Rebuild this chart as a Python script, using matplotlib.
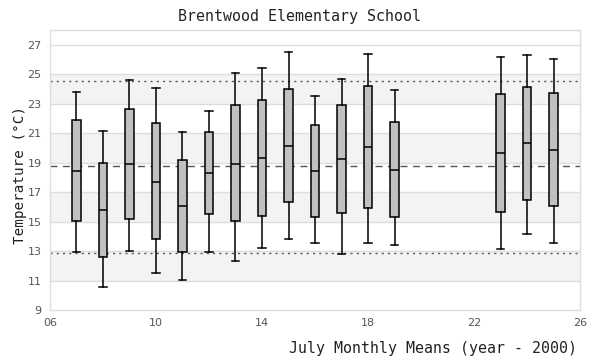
import matplotlib
matplotlib.use("Agg")
import matplotlib.pyplot as plt

years = [7, 8, 9, 10, 11, 12, 13, 14, 15, 16, 17, 18, 19, 23, 24, 25]
whislo = [12.93, 10.55, 13.0, 11.5, 11.02, 12.93, 12.32, 13.2, 13.82, 13.55, 12.8, 13.55, 13.41, 13.14, 14.16, 13.55]
q1 = [15.05, 12.59, 15.18, 13.82, 12.93, 15.52, 15.05, 15.39, 16.34, 15.32, 15.59, 15.93, 15.32, 15.66, 16.48, 16.07]
med = [18.45, 15.8, 18.93, 17.70, 16.09, 18.32, 18.93, 19.34, 20.16, 18.45, 19.23, 20.09, 18.52, 19.68, 20.3, 19.89]
q3 = [21.86, 19.0, 22.61, 21.66, 19.2, 21.11, 22.89, 23.23, 23.98, 21.52, 22.89, 24.18, 21.73, 23.64, 24.11, 23.7]
whishi = [23.77, 21.18, 24.59, 24.09, 21.05, 22.48, 25.07, 25.41, 26.5, 23.5, 24.66, 26.36, 23.91, 26.16, 26.3, 26.02]

mean_line = 18.78
upper_line = 24.51
lower_line = 12.89

xticks = [6, 10, 14, 18, 22, 26]
xticklabels = ["06", "10", "14", "18", "22", "26"]
yticks = [9, 11, 13, 15, 17, 19, 21, 23, 25, 27]
bands = [(11, 13), (15, 17), (19, 21), (23, 25)]

fig = plt.figure(figsize=(6, 3.6), dpi=100)
ax = fig.add_axes([50/600, 50/360, 530/600, 280/360])

for lo, hi in bands:
    ax.axhspan(lo, hi, color="#f3f3f3", zorder=0, lw=0)
for y in yticks[1:]:
    ax.axhline(y, color="#dddddd", lw=1, zorder=1)

ax.axhline(mean_line, color="#555555", lw=1, ls=(0, (5, 4)), zorder=2)
ax.axhline(upper_line, color="#555555", lw=1, ls=(0, (1.5, 3)), zorder=2)
ax.axhline(lower_line, color="#555555", lw=1, ls=(0, (1.5, 3)), zorder=2)

stats = []
for i in range(len(years)):
    stats.append(dict(whislo=whislo[i], q1=q1[i], med=med[i], q3=q3[i], whishi=whishi[i], fliers=[]))

ax.bxp(stats, positions=years, widths=0.31, patch_artist=True, showfliers=False,
       manage_ticks=False,
       boxprops=dict(facecolor="#c0c0c0", edgecolor="black", lw=1.1),
       medianprops=dict(color="black", lw=1.1),
       whiskerprops=dict(color="black", lw=1.1),
       capprops=dict(color="black", lw=1.1),
       capwidths=0.3, zorder=3)

ax.set_xlim(6, 26)
ax.set_ylim(9, 28)
ax.set_xticks(xticks)
ax.set_xticklabels(xticklabels)
ax.set_yticks(yticks)
ax.tick_params(length=0, labelsize=8, labelcolor="#555555", pad=6)
for s in ax.spines.values():
    s.set_color("#dddddd")
    s.set_linewidth(1)

fig.text(0.5, 0.955, "Brentwood Elementary School", ha="center", va="center",
         family="DejaVu Sans Mono", fontsize=10.8, color="#222222")
fig.text(577/600, 1 - 348/360, "July Monthly Means (year - 2000)", ha="right", va="center",
         family="DejaVu Sans Mono", fontsize=10.7, color="#222222")
fig.text(20/600, 1 - 175/360, "Temperature (°C)", ha="center", va="center", rotation=90,
         family="DejaVu Sans Mono", fontsize=10.3, color="#222222")

fig.savefig("out.png", dpi=100, facecolor="white")
